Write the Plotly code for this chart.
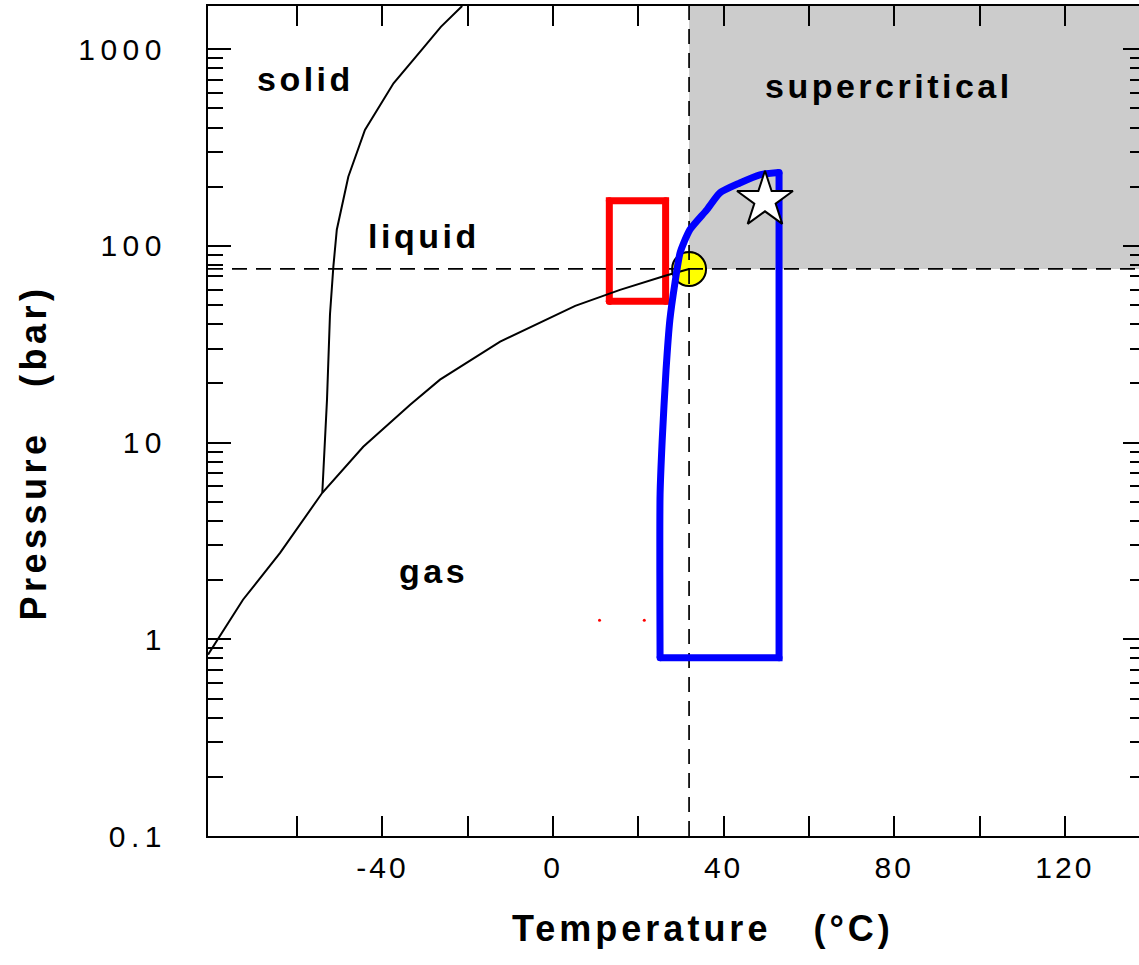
import plotly.graph_objects as go

# ---------------- data ----------------
# axis limits (°C, bar)
T_MIN, T_MAX = -80.9, 137.4
P_MIN, P_MAX = 0.1, 1660.0

# critical point
T_CRIT = [31.9]
P_CRIT = [76.4]

# sublimation + vaporization curve (gas boundary)
vap_T = [-80.9, -72.7, -64.0, -54.1, -44.5, -33.5, -26.5, -12.4, 5.2, 15.7, 26.3, 31.9]
vap_P = [0.836, 1.59, 2.75, 5.56, 9.53, 15.6, 20.9, 32.6, 49.6, 59.8, 70.5, 76.4]

# melting curve (solid / liquid boundary)
melt_T = [-54.1, -53.4, -53.0, -52.3, -51.5, -50.7, -48.0, -44.1, -37.4, -30.8, -26.3, -21.3]
melt_P = [5.56, 12.3, 16.5, 44.7, 78.7, 121, 225, 389, 671, 993, 1300, 1660]

# blue process loop: curved rising branch, then straight return
blue_curve_T = [25.1, 25.1, 25.6, 26.5, 27.4, 28.6, 29.8, 32.1, 36.1, 39.1, 43.8, 48.5, 53.0]
blue_curve_P = [0.806, 5.43, 10.3, 23.4, 42.1, 65.0, 92.3, 121, 153, 186, 209, 230, 236]
blue_return_T = [53.0, 53.0, 25.1]
blue_return_P = [236, 0.806, 0.806]

# red box
red_T = [13.2, 26.4, 26.4, 13.2, 13.2]
red_P = [52.4, 52.4, 170, 170, 52.4]

# star marker
star_T = [49.7]
star_P = [171]

# tiny red dots
dot_T = [10.9, 21.4]
dot_P = [1.25, 1.25]

# ticks
x_tickvals = [-60, -40, -20, 0, 20, 40, 60, 80, 100, 120]
x_ticktext = ["", "-40", "", "0", "", "40", "", "80", "", "120"]
y_tickvals = [0.1, 1, 10, 100, 1000]
y_ticktext = ["0.1", "1", "10", "100", "1000"]
y_minor = [m * 10 ** e for e in range(-1, 3) for m in range(2, 10)] + [2000.0]

FONT = "Liberation Sans, Arial, sans-serif"


def spaced(s, px):
    return f'<span style="letter-spacing:{px}px">{s}</span>' if s else ""


fig = go.Figure()

# supercritical region
fig.add_trace(go.Scatter(
    x=[T_CRIT[0], T_MAX, T_MAX, T_CRIT[0], T_CRIT[0]],
    y=[P_CRIT[0], P_CRIT[0], P_MAX, P_MAX, P_CRIT[0]],
    fill="toself", fillcolor="#cccccc", mode="lines",
    line=dict(width=0, color="#cccccc"), hoverinfo="skip", showlegend=False))

# critical point circle
fig.add_trace(go.Scatter(
    x=T_CRIT, y=P_CRIT, mode="markers",
    marker=dict(size=34, color="#ffff00", line=dict(color="black", width=2)),
    showlegend=False))

# dashed critical lines
fig.add_trace(go.Scatter(
    x=[T_MIN, T_MAX], y=[P_CRIT[0], P_CRIT[0]], mode="lines",
    line=dict(color="black", width=1.7, dash="15px,9px"), showlegend=False))
fig.add_trace(go.Scatter(
    x=[T_CRIT[0], T_CRIT[0]], y=[P_MIN, P_MAX], mode="lines",
    line=dict(color="black", width=1.7, dash="15px,9px"), showlegend=False))

# red box (markers round off the corners)
fig.add_trace(go.Scatter(
    x=red_T, y=red_P, mode="lines+markers",
    line=dict(color="#ff0000", width=7),
    marker=dict(size=7, color="#ff0000"), showlegend=False))

# phase boundaries
fig.add_trace(go.Scatter(
    x=vap_T, y=vap_P, mode="lines",
    line=dict(color="black", width=2), showlegend=False))
fig.add_trace(go.Scatter(
    x=melt_T, y=melt_P, mode="lines",
    line=dict(color="black", width=2), showlegend=False))

# blue loop
fig.add_trace(go.Scatter(
    x=blue_curve_T, y=blue_curve_P, mode="lines",
    line=dict(color="#0000ff", width=7, shape="spline", smoothing=0.6), showlegend=False))
fig.add_trace(go.Scatter(
    x=blue_return_T, y=blue_return_P, mode="lines+markers",
    line=dict(color="#0000ff", width=7),
    marker=dict(size=7, color="#0000ff"), showlegend=False))

# star
fig.add_trace(go.Scatter(
    x=star_T, y=star_P, mode="markers",
    marker=dict(symbol="star", size=42, color="white", line=dict(color="black", width=2)),
    showlegend=False))

# red dots
fig.add_trace(go.Scatter(
    x=dot_T, y=dot_P, mode="markers",
    marker=dict(size=3, color="#ff0000"), showlegend=False))

# ---------------- layout ----------------
W, H = 1139, 965
L, R, T, B = 208, 0, 6, 129
pw, ph = W - L - R, H - T - B


def px_x(px):
    return (px - L) / pw


def px_y(py):
    return (H - B - py) / ph


fig.update_layout(
    width=W, height=H,
    margin=dict(l=L, r=R, t=T, b=B, pad=0),
    paper_bgcolor="white", plot_bgcolor="white",
    font=dict(family=FONT, color="black"),
    showlegend=False,
    xaxis=dict(
        range=[T_MIN, T_MAX], showgrid=False, zeroline=False,
        showline=True, linecolor="black", linewidth=2, mirror="ticks",
        ticks="inside", ticklen=20, tickwidth=2, tickcolor="black",
        tickmode="array", tickvals=x_tickvals,
        ticktext=[spaced(t, 3) for t in x_ticktext],
        tickfont=dict(size=30, family=FONT, color="black"),
        ticklabelstandoff=4,
    ),
    yaxis=dict(
        type="log", range=[-1, 3.22], showgrid=False, zeroline=False,
        showline=True, linecolor="black", linewidth=2, mirror=False,
        ticks="inside", ticklen=23, tickwidth=2, tickcolor="black",
        tickmode="array", tickvals=y_tickvals,
        ticktext=[spaced(t, 5.5) for t in y_ticktext],
        tickfont=dict(size=30, family=FONT, color="black"),
        ticklabelstandoff=33,
        minor=dict(ticks="inside", ticklen=15, tickwidth=2, tickcolor="black",
                   tickmode="array", tickvals=y_minor, showgrid=False),
    ),
    yaxis2=dict(
        type="log", range=[-1, 3.22], overlaying="y", side="right", anchor="x",
        showgrid=False, zeroline=False, showline=False,
        ticks="inside", ticklen=16, tickwidth=2, tickcolor="black",
        tickmode="array", tickvals=y_tickvals, showticklabels=False,
        minor=dict(ticks="inside", ticklen=9, tickwidth=2, tickcolor="black",
                   tickmode="array", tickvals=y_minor, showgrid=False),
    ),
)

# invisible trace on yaxis2 so that the right-hand ticks render
fig.add_trace(go.Scatter(x=[T_MIN], y=[P_MIN], yaxis="y2", mode="markers",
                         marker=dict(size=0, opacity=0), hoverinfo="skip",
                         showlegend=False))

ann_font = dict(family=FONT, size=34, color="black")
title_font = dict(family=FONT, size=36, color="black")
annotations = [
    dict(text=spaced("<b>solid</b>", 3.5), x=px_x(305.5), y=px_y(78.7), font=ann_font),
    dict(text=spaced("<b>liquid</b>", 3.5), x=px_x(424), y=px_y(236), font=ann_font),
    dict(text=spaced("<b>gas</b>", 3.5), x=px_x(433), y=px_y(571), font=ann_font),
    dict(text=spaced("<b>supercritical</b>", 3.5), x=px_x(889), y=px_y(86.3), font=ann_font),
    dict(text=spaced("<b>Temperature\u00a0\u00a0\u00a0(°C)</b>", 4), x=px_x(702.5), y=px_y(928),
         font=title_font),
    dict(text=spaced("<b>Pressure\u00a0\u00a0\u00a0(bar)</b>", 4.5), x=px_x(32.5), y=px_y(453),
         font=title_font, textangle=-90),
]
for a in annotations:
    fig.add_annotation(xref="paper", yref="paper", showarrow=False,
                       xanchor="center", yanchor="middle", **a)

fig.write_html("out.html")
